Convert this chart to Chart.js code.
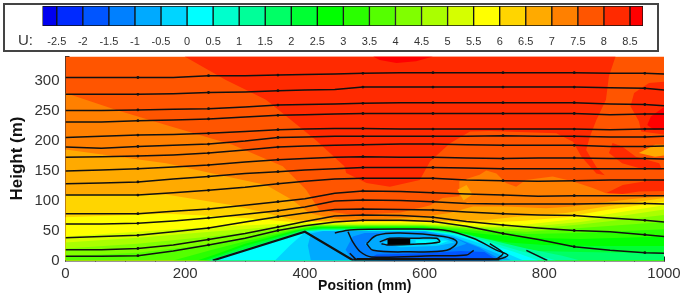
<!DOCTYPE html>
<html><head><meta charset="utf-8">
<style>
html,body{margin:0;padding:0;background:#fff;width:685px;height:296px;overflow:hidden}
#box{position:absolute;left:3px;top:3px;width:652px;height:45px;border:2px solid #444}
#u{position:absolute;left:18px;top:31px;font:15px "Liberation Sans",sans-serif;color:#333}
canvas{position:absolute;left:0;filter:blur(0.35px)}
#legend{top:0}
#main{top:0}
</style>
<script src="https://cdn.jsdelivr.net/npm/chart.js@4"></script>
</head><body>
<canvas id="main" width="685" height="296"></canvas>
<div id="box"></div><div id="u">U:</div>
<canvas id="legend" width="685" height="52"></canvas>
<script>
const legendLevels=[-2.5,-2,-1.5,-1,-0.5,0,0.5,1,1.5,2,2.5,3,3.5,4,4.5,5,5.5,6,6.5,7,7.5,8,8.5];
const legendEnds=[-2.776,8.75];
const colors=['#0000f0','#002aff','#0055ff','#0080ff','#00aaff','#00d5ff','#00ffff','#00ffcc','#00ff99','#00ff66','#00ff33','#00ff00','#2aff00','#55ff00','#80ff00','#aaff00','#d5ff00','#ffff00','#ffd500','#ffaa00','#ff8000','#ff5500','#ff2a00','#ff0000'];

// filled contour regions, [position mm, height m]
const baseRegion=[[0,0],[1000,0],[1000,340],[0,340]];
const high8Main=[[199,340],[919,340],[908,307],[903,268],[887,234],[876,206],[870,184],[887,156],[901,142],[887,145],[862,173],[848,198],[820,212],[708,216],[676,215],[642,195],[609,165],[592,134],[542,123],[503,129],[469,146],[466,157],[418,201],[335,268],[268,301]];
const high8Right=[[1000,298],[975,296],[950,279],[944,257],[958,232],[962,215],[1000,210]];
const high8Finger=[[914,196],[930,190],[953,173],[992,162],[997,151],[958,154],[930,162],[908,179]];
const high8Low=[[903,112],[931,126],[969,132],[1000,134],[1000,116],[958,115],[919,109]];
const high85Top=[[514,340],[614,340],[586,332],[553,329],[525,334]];
const high85Right=[[1000,256],[978,240],[972,226],[983,218],[1000,220]];
const below75=[[0,279],[85,251],[168,226],[279,193],[363,157],[402,118],[424,84],[480,76],[560,80],[610,92],[630,104],[658,107],[658,132],[692,143],[703,150],[720,145],[736,129],[753,123],[769,134],[814,140],[847,132],[881,121],[903,112],[950,110],[1000,108],[1000,0],[0,0]];
const below7=[[0,185],[168,162],[246,145],[335,126],[379,101],[407,79],[446,70],[466,68],[514,68],[597,73],[642,79],[681,90],[736,90],[803,87],[847,90],[900,97],[950,103],[1000,107],[1000,0],[0,0]];
const patch7Right=[[958,179],[985,193],[1000,193],[1000,175],[985,173]];
const patch7Mid=[[655,118],[670,126],[680,110],[665,100]];
const below65=[[0,110],[168,110],[279,92],[335,79],[379,68],[418,66],[597,66],[653,66],[708,68],[753,73],[836,79],[903,90],[1000,104],[1000,0],[0,0]];
const below6=[[0,72],[168,78],[250,74],[335,68],[379,64],[418,64],[597,64],[680,62],[760,66],[836,72],[903,84],[1000,98],[1000,0],[0,0]];
const below55=[[0,40],[120,48],[242,56],[335,60],[379,62],[597,62],[690,58],[770,60],[860,70],[1000,92],[1000,0],[0,0]];
const below5=[[0,30],[120,38],[242,48],[335,55],[379,58],[420,60],[597,60],[690,56],[770,56],[860,64],[1000,85],[1000,0],[0,0]];
const below45=[[0,20],[120,28],[242,40],[335,50],[379,55],[420,59],[597,59],[690,54],[770,52],[860,60],[1000,76],[1000,0],[0,0]];
const below4=[[0,7],[120,13],[242,27],[300,38],[370,50],[415,58],[597,58],[690,52],[770,48],[860,54],[1000,64],[1000,0],[0,0]];
const below35=[[180,0],[242,17],[300,32],[380,50],[415,57],[597,57],[690,49],[770,44],[860,46],[1000,52],[1000,0]];
const below3=[[220,0],[250,10],[300,28],[385,50],[420,56],[600,56],[690,45],[770,38],[860,36],[1000,40],[1000,0]];
const below25=[[232,0],[300,24],[392,50],[430,54],[600,54],[650,48],[700,37],[740,30],[800,26],[880,24],[1000,24],[1000,0]];
const below2=[[238,0],[396,50],[430,52.5],[600,52.5],[670,44],[740,24],[790,16],[860,14],[1000,12],[1000,0]];
const below15=[[240,0],[398,49],[430,51.5],[600,51.5],[660,45],[710,34],[770,20],[830,8],[860,0]];
const below1=[[242,0],[400,48.5],[430,50.5],[600,50.5],[660,44],[705,32],[760,16],[810,3],[820,0]];
const below05=[[244,0],[400,48],[430,50],[600,50],[655,43],[700,30],[750,14],[790,0]];
const below0=[[350,0],[375,25],[400,47],[420,49.5],[600,49.5],[650,42],[695,28],[730,15],[765,0]];
const belowM05=[[410,0],[405,25],[410,45],[430,49],[600,49],[645,41],[685,26],[720,12],[745,0]];
const belowM1=[[480,0],[468,18],[480,40],[500,46],[600,47],[650,38],[690,22],[720,6],[730,0]];
const belowM15=[[500,0],[520,10],[600,12],[660,16],[700,14],[722,0]];
const belowM2=[[520,0],[600,4],[680,4],[715,0]];
const core1=[[500,28],[520,44],[600,46],[650,38],[670,28],[640,18],[560,16],[510,18]];
const core2=[[530,30],[560,38],[630,38],[650,30],[620,24],[560,22]];
const core3=[[585,34],[640,33],[625,27],[585,28]];

// streamlines sampled at these positions
const stations=[0,60,121,180,239,300,355,400,450,497,560,614,670,731,790,850,910,968,1000];
const arrowStations=[121,239,355,497,614,731,850,968];
const stream1=[305,305,305,305,308,308,309,310,311,312,313,313,313,313,313,313,312,312,311];
const stream2=[277,277,277,278,280,281,283,284,285,289,289,289,289,289,289,289,288,287,284];
const stream3=[250,250,251,252,253,256,259,260,261,262,263,263,263,263,263,263,261,260,258];
const stream4=[231,231,233,234,236,239,242,243,244,245,245,245,245,245,245,245,243,244,244];
const stream5=[205,207,209,210,212,215,218,219,220,220,219,219,219,219,219,219,218,219,219];
const stream6=[189,187,190,192,194,199,205,206,207,207,207,207,207,208,207,207,206,206,207];
const stream7=[172,173,174,176,179,184,189,191,192,193,194,194,193,192,192,192,190,190,191];
const stream8=[149,151,153,156,159,164,168,170,172,173,172,172,171,170,171,171,170,170,169];
const stream9=[128,129,131,136,140,145,148,151,153,155,155,155,154,153,153,153,153,153,153];
const stream10=[109,109,109,113,117,122,128,132,136,137,137,137,134,133,132,133,134,134,134];
const stream11=[78,78,78,82,86,92,98,103,112,116,115,113,111,109,107,108,108,108,108];
const stream12=[61,61,62,66,71,77,83,89,99,101,100,98,95,94,94,94,95,95,94];
const stream13=[38,40,42,48,54,64,73,79,85,86,85,84,81,78,76,75,71,67,64];
const stream14=[18,18,20,26,35,45,56,65,74,76,75,72,65,59,54,50,48,43,40];
const stream15=[7,7,8,16,26,37,50,58,64,67,67,65,57,45,35,23,17,13,12];
const hillLine=[[246,0],[400,48],[481,0]];
const floorLine=[[481,1],[725,1]];
const bubbleA=[[450,46],[475,51],[559,52.4],[631,50.8],[681,37],[720,17.4],[739,9],[726,3],[614,3],[487,3]];
const bubbleB=[[472,48],[480,31],[492,15],[511,6],[614,8],[670,9],[682,17]];
const bubbleC=[[503,28],[520,42],[559,46],[632,40],[654,31],[637,17],[576,14.5],[514,17],[503,28]];
const bubbleD=[[525,31],[542,37],[587,37],[620,37],[625,31],[581,27],[537,26],[528,28]];
const bubbleE=[[709,28],[731,12],[720,2]];
const bubbleF=[[475,12],[486,1]];
const wakeSeg=[[770,17],[805,0]];
const coreBlob=[[538,37],[576,37],[576,26],[538,26]];

const pts=a=>a.map(p=>({x:p[0],y:p[1]}));
const poly=(a,c)=>({data:pts(a),showLine:true,fill:'shape',backgroundColor:c,borderColor:c,borderWidth:0,pointRadius:0});
const line=(a,w,t)=>({data:pts(a),showLine:true,fill:false,borderColor:'#111',borderWidth:w,pointRadius:0,tension:t||0});

const layers=[
 poly(baseRegion,colors[21]),
 poly(high8Main,colors[22]),poly(high8Right,colors[22]),poly(high8Finger,colors[22]),poly(high8Low,colors[22]),
 poly(high85Top,colors[23]),poly(high85Right,colors[23]),
 poly(below75,colors[20]),poly(below7,colors[19]),poly(patch7Right,colors[19]),poly(patch7Mid,colors[19]),
 poly(below65,colors[18]),poly(below6,colors[17]),poly(below55,colors[16]),poly(below5,colors[15]),
 poly(below45,colors[14]),poly(below4,colors[13]),poly(below35,colors[12]),poly(below3,colors[11]),
 poly(below25,colors[10]),poly(below2,colors[9]),poly(below15,colors[8]),poly(below1,colors[7]),
 poly(below05,colors[6]),
 poly(below0,colors[5]),poly(belowM05,colors[4]),poly(belowM1,colors[3]),poly(belowM15,colors[2]),poly(belowM2,colors[1]),
 poly(core1,colors[4]),poly(core2,colors[5]),poly(core3,colors[6]),
 poly(coreBlob,'#000')
];
[stream1,stream2,stream3,stream4,stream5,stream6,stream7,stream8,stream9,stream10,stream11,stream12,stream13,stream14,stream15].forEach(s=>{
  const d=line(stations.map((x,i)=>[x,s[i]]),1.5);
  d.pointRadius=c=>arrowStations.includes(stations[c.dataIndex])?1.4:0;
  d.pointBackgroundColor='#111';d.pointBorderWidth=0;
  layers.push(d);
});
layers.push(line(hillLine,2.2),line(floorLine,2.6),line(bubbleA,1.5,0.3),line(bubbleB,1.5,0.3),line(bubbleC,1.5,0.35),line(bubbleD,1.5,0.3),line(bubbleE,1.5,0.3),line(bubbleF,1.5),line(wakeSeg,1.5));
layers.forEach((d,i)=>{d.order=-i;});

const tickFont={family:'"Liberation Sans",sans-serif',size:15};
new Chart(document.getElementById('main'),{
 type:'scatter',
 data:{datasets:layers},
 options:{
  responsive:false,animation:false,events:[],
  layout:{padding:{left:0,right:21,top:56.5,bottom:0}},
  plugins:{legend:{display:false},tooltip:{enabled:false}},
  scales:{
   x:{type:'linear',min:0,max:1000,
    grid:{drawOnChartArea:false,tickLength:-4,color:'#222',tickWidth:1},
    border:{color:'#333',width:1.5},
    ticks:{stepSize:50,autoSkip:false,maxRotation:0,color:'#333',font:tickFont,padding:8,callback:v=>v%200===0?String(v):''},
    title:{display:true,text:'Position (mm)',color:'#111',font:{family:'"Liberation Sans",sans-serif',size:14,weight:'bold'},padding:{top:0,bottom:1.5}},
    afterFit(s){s.height=35.5;s.paddingLeft=0;s.paddingRight=0;}
   },
   y:{type:'linear',min:0,max:340,
    grid:{drawOnChartArea:false,tickLength:-4,color:'#222',tickWidth:1},
    border:{color:'#333',width:1.5},
    ticks:{stepSize:10,autoSkip:false,color:'#333',font:tickFont,padding:10,callback:v=>v%50===0?String(v):''},
    title:{display:true,text:'Height (m)',color:'#111',font:{family:'"Liberation Sans",sans-serif',size:17,weight:'bold'},padding:{top:7,bottom:0}},
    afterFit(s){s.width=65.5;}
   }
  }
 }
});

const edges=[legendEnds[0],...legendLevels,legendEnds[1]];
const legendSets=colors.map((c,i)=>({data:[[edges[i],edges[i+1]]],backgroundColor:c,borderColor:'#111',borderWidth:1,borderSkipped:false,grouped:false,categoryPercentage:1,barPercentage:1}));
new Chart(document.getElementById('legend'),{
 type:'bar',
 data:{labels:['U'],datasets:legendSets},
 options:{
  indexAxis:'y',responsive:false,animation:false,events:[],
  layout:{padding:{left:42.4,right:42,top:6,bottom:0}},
  plugins:{legend:{display:false},tooltip:{enabled:false}},
  scales:{
   y:{display:false},
   x:{type:'linear',min:legendEnds[0],max:legendEnds[1],
    grid:{display:false,drawTicks:false},border:{display:false},
    afterBuildTicks(s){s.ticks=legendLevels.map(v=>({value:v}));},
    ticks:{autoSkip:false,maxRotation:0,color:'#333',font:{family:'"Liberation Sans",sans-serif',size:11},padding:9,callback:v=>String(v)},
    afterFit(s){s.height=26;}
   }
  }
 }
});
</script>
</body></html>
